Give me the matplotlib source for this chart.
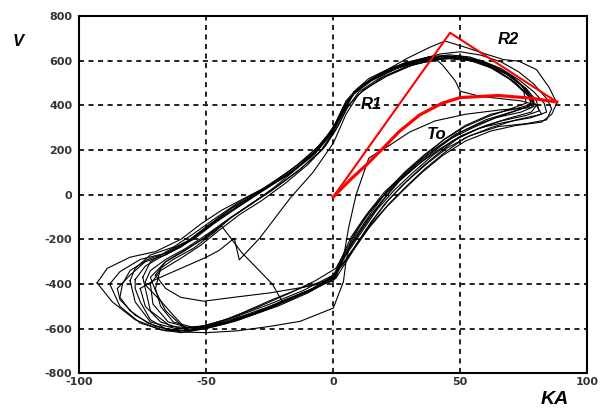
import matplotlib
matplotlib.use("Agg")
import matplotlib.pyplot as plt

plt.rcParams["axes.unicode_minus"] = False

loop_a_ka = [-93, -89, -80, -70, -60, -52, -44, -34, -22, -12, -4, 1, 5, 10, 18, 28, 38, 46, 54, 62,
             70, 76, 80, 81, 76, 66, 56, 47, 39, 31, 24, 17, 11, 5, 1, -6, -15, -26, -38, -50,
             -60, -68, -78, -87, -93]
loop_a_v = [-395, -330, -280, -255, -200, -130, -70, -10, 60, 140, 230, 320, 420, 480, 540, 590, 618, 626, 616, 582,
            530, 475, 420, 375, 355, 330, 290, 240, 175, 95, 20, -70, -170, -270, -350, -410, -455, -515, -565, -600,
            -618, -605, -560, -480, -395]

loop_b_ka = [-88, -84, -76, -66, -57, -49, -40, -30, -19, -9, -2, 3, 7, 13, 22, 32, 42, 50, 58, 66,
             73, 79, 84, 86, 84, 76, 65, 54, 45, 37, 29, 22, 15, 9, 4, 0, -9, -19, -31, -44,
             -56, -66, -76, -84, -88]
loop_b_v = [-400, -345, -290, -262, -205, -135, -60, 5, 80, 165, 255, 350, 445, 500, 555, 600, 630, 640, 625, 595,
            550, 495, 430, 385, 335, 318, 305, 265, 210, 140, 60, -20, -120, -225, -310, -365, -425, -470, -530, -580,
            -608, -610, -575, -500, -400]

loop_c_ka = [-80, -78, -72, -63, -55, -47, -38, -28, -18, -8, -1, 4, 8, 15, 25, 35, 44, 52, 60, 68,
             74, 78, 79, 74, 64, 55, 46, 38, 30, 23, 16, 10, 5, 1, -7, -17, -29, -41, -52, -62,
             -72, -78, -80]
loop_c_v = [-385, -330, -270, -235, -175, -110, -40, 25, 100, 185, 275, 370, 455, 520, 570, 605, 620, 612, 585, 540,
            490, 440, 395, 370, 345, 300, 250, 185, 110, 35, -50, -150, -250, -330, -385, -440, -500, -555, -590, -600,
            -570, -480, -385]

loop_d_ka = [-75, -72, -65, -56, -48, -40, -31, -21, -11, -3, 2, 6, 11, 19, 29, 38, 44, 52, 60, 67,
             73, 80, 85, 88, 86, 82, 72, 62, 52, 43, 35, 28, 21, 14, 8, 3, 0, -8, -18, -30,
             -42, -54, -64, -72, -75]
loop_d_v = [-370, -300, -250, -200, -130, -60, 0, 75, 160, 250, 340, 430, 485, 545, 610, 660, 688, 660, 630, 605,
            598, 560, 480, 410, 360, 325, 310, 285, 240, 175, 100, 25, -55, -150, -245, -320, -370, -420, -470, -525,
            -570, -598, -590, -520, -370]

loop_e_ka = [-72, -68, -60, -52, -45, -37, -28, -19, -10, -3, 2, 6, 12, 21, 31, 40, 48, 56, 63, 70,
             75, 76, 70, 61, 52, 44, 36, 28, 20, 13, 7, 3, 0, -10, -22, -34, -46, -57, -65, -71,
             -72]
loop_e_v = [-400, -340, -285, -225, -160, -90, -25, 50, 135, 220, 310, 400, 470, 530, 580, 605, 612, 598, 565, 515,
            460, 410, 385, 350, 305, 250, 175, 95, 10, -90, -190, -290, -380, -430, -490, -545, -585, -595, -570, -490,
            -400]

loop_f_ka = [-85, -80, -74, -66, -58, -50, -42, -33, -24, -14, -5, 0, 4, 9, 17, 27, 37, 45, 53, 61,
             69, 75, 80, 78, 70, 60, 50, 42, 34, 26, 19, 12, 7, 5, 4, 0, -13, -25, -38, -50,
             -60, -70, -78, -84, -85]
loop_f_v = [-420, -360, -300, -270, -215, -150, -85, -20, 45, 125, 215, 300, 395, 470, 530, 585, 612, 622, 610, 575,
            520, 465, 400, 370, 345, 310, 262, 205, 140, 65, -15, -110, -200, -300, -390, -508, -567, -590, -610, -618,
            -615, -590, -540, -470, -420]

loop_g_ka = [-76, -70, -60, -50, -45, -39, -37, -29, -17, -8, 0, 5, 10, 20, 32, 44, 54, 64, 72, 77,
             78, 70, 60, 50, 42, 34, 26, 20, 14, 8, 3, 0, -12, -25, -38, -50, -60, -68, -74, -76]
loop_g_v = [-420, -380, -330, -280, -250, -195, -292, -195, -16, 100, 230, 360, 450, 530, 585, 610, 600, 560, 500, 440,
            400, 370, 335, 280, 215, 140, 60, -20, -110, -210, -300, -360, -430, -490, -545, -585, -600, -570, -500, -420]

loop_h_ka = [-68, -63, -55, -47, -40, -32, -23, -14, -6, 0, 4, 8, 14, 23, 33, 40, 43, 48, 50, 58,
             66, 74, 80, 82, 72, 62, 52, 44, 36, 29, 22, 15, 9, 4, 1, -8, -20, -33, -45, -55,
             -63, -68, -70, -68]
loop_h_v = [-330, -290, -240, -170, -100, -40, 35, 120, 205, 290, 380, 460, 520, 570, 600, 610, 581, 510, 463, 440,
            430, 420, 400, 360, 335, 300, 255, 190, 115, 40, -40, -130, -230, -320, -375, -425, -480, -540, -580, -595,
            -570, -500, -420, -330]

loop_i_ka = [-78, -74, -68, -60, -52, -44, -35, -25, -15, -6, 0, 4, 9, 17, 27, 37, 46, 55, 63, 70,
             76, 79, 78, 66, 52, 40, 30, 22, 14, 9, 6, 4, 1, -10, -22, -35, -47, -57, -66, -72,
             -76, -78, -78]
loop_i_v = [-380, -320, -280, -235, -170, -100, -30, 45, 125, 215, 300, 390, 465, 525, 575, 605, 615, 605, 575, 530,
            470, 420, 390, 380, 360, 330, 280, 220, 164, 0, -150, -284, -370, -440, -500, -550, -590, -612, -600, -560,
            -480, -420, -380]

loop_j_ka = [-74, -72, -66, -58, -50, -42, -33, -23, -13, -4, 1, 5, 10, 18, 28, 38, 47, 56, 64, 71,
             76, 78, 77, 68, 58, 48, 40, 32, 25, 19, 13, 7, 3, 0, -12, -24, -36, -47, -57, -63,
             -68, -74, -74]
loop_j_v = [-390, -340, -290, -240, -180, -115, -45, 30, 115, 205, 290, 380, 460, 520, 570, 600, 612, 602, 572, 525,
            470, 420, 395, 360, 320, 270, 205, 130, 50, -30, -120, -225, -310, -375, -415, -470, -530, -580, -612, -540,
            -475, -404, -390]

loop_k_ka = [-83, -80, -73, -64, -55, -47, -38, -28, -17, -7, -1, 3, 7, 13, 22, 32, 42, 50, 58, 66,
             73, 79, 83, 84, 78, 68, 58, 50, 43, 35, 27, 20, 14, 8, 3, 0, -9, -19, -31, -43,
             -55, -64, -73, -80, -84, -83]
loop_k_v = [-400, -340, -290, -255, -200, -130, -60, 15, 95, 185, 270, 360, 440, 500, 555, 595, 618, 620, 602, 565,
            515, 460, 410, 370, 345, 325, 300, 260, 200, 125, 40, -45, -140, -240, -320, -368, -430, -480, -535, -580,
            -605, -608, -575, -520, -460, -400]

loop_l_ka = [-70, -66, -59, -51, -43, -34, -24, -14, -5, 0, 4, 8, 15, 25, 35, 44, 53, 61, 69, 74,
             77, 78, 72, 62, 52, 44, 36, 28, 21, 15, 9, 4, 0, -12, -25, -38, -51, -60, -66, -70]
loop_l_v = [-360, -300, -255, -195, -125, -55, 20, 105, 195, 280, 370, 450, 510, 565, 598, 614, 610, 585, 540, 490,
            440, 405, 385, 360, 310, 250, 180, 100, 15, -80, -180, -280, -388, -415, -440, -458, -477, -460, -420, -360]

loop_m_ka = [-20, -35, -48, -58, -66, -70, -72, -66, -58, -50, -44, -40, -36, -30, -24, -20]
loop_m_v = [-480, -540, -585, -605, -520, -430, -370, -300, -245, -190, -140, -200, -260, -330, -400, -480]

loops = [(loop_a_ka, loop_a_v), (loop_b_ka, loop_b_v), (loop_c_ka, loop_c_v), (loop_d_ka, loop_d_v),
         (loop_e_ka, loop_e_v), (loop_f_ka, loop_f_v), (loop_g_ka, loop_g_v), (loop_h_ka, loop_h_v),
         (loop_i_ka, loop_i_v), (loop_j_ka, loop_j_v), (loop_k_ka, loop_k_v), (loop_l_ka, loop_l_v),
         (loop_m_ka, loop_m_v)]

# red construction lines
r_tri_ka = [0, 46, 88]
r_tri_v = [-10, 725, 415]
to_ka = [0, 6.6, 13, 19.6, 26, 34, 39, 43, 50, 65, 78, 88]
to_v = [-10, 66, 133, 208, 283, 357, 387, 410, 435, 444, 432, 415]

xticks = [-100, -50, 0, 50, 100]
yticks = [-800, -600, -400, -200, 0, 200, 400, 600, 800]

fig = plt.figure(figsize=(6.08, 4.12), dpi=100)
ax = fig.add_axes([0.1304, 0.0939, 0.8355, 0.8672])

for ka, v in loops:
    ax.plot(ka, v, color="black", lw=0.8, zorder=2)

ax.plot(r_tri_ka, r_tri_v, color="#ff0000", lw=1.5, zorder=3)
ax.plot(to_ka, to_v, color="#ff0000", lw=2.3, zorder=3)

for g in [-50, 0, 50]:
    ax.axvline(g, color="#222222", lw=1.4, linestyle=(0, (2.6, 2.3)), zorder=1)
for g in [-600, -400, -200, 0, 200, 400, 600]:
    ax.axhline(g, color="#222222", lw=1.4, linestyle=(0, (2.6, 2.3)), zorder=1)

ax.set_xlim(-100, 100)
ax.set_ylim(-800, 800)
ax.set_xticks(xticks)
ax.set_yticks(yticks)
ax.tick_params(length=0, labelsize=8, labelcolor="#333333")
ax.tick_params(axis="y", pad=5)
ax.tick_params(axis="x", pad=3)
for lab in ax.get_xticklabels() + ax.get_yticklabels():
    lab.set_fontweight("bold")
    lab.set_family("DejaVu Sans")
for s in ax.spines.values():
    s.set_linewidth(1.5)

lbl = dict(fontfamily="Liberation Sans", fontweight="bold", fontstyle="italic")
fig.text(18 / 608, 1 - 42 / 412, "V", fontsize=12, ha="center", va="center", **lbl)
fig.text(555 / 608, 1 - 400 / 412, "KA", fontsize=14, ha="center", va="center", **lbl)
ax.text(15, 405, "R1", fontsize=12, ha="center", va="center", **lbl)
ax.text(69, 693, "R2", fontsize=12, ha="center", va="center", **lbl)
ax.text(40.7, 271, "To", fontsize=12, ha="center", va="center", **lbl)

fig.savefig("out.png", dpi=100)
